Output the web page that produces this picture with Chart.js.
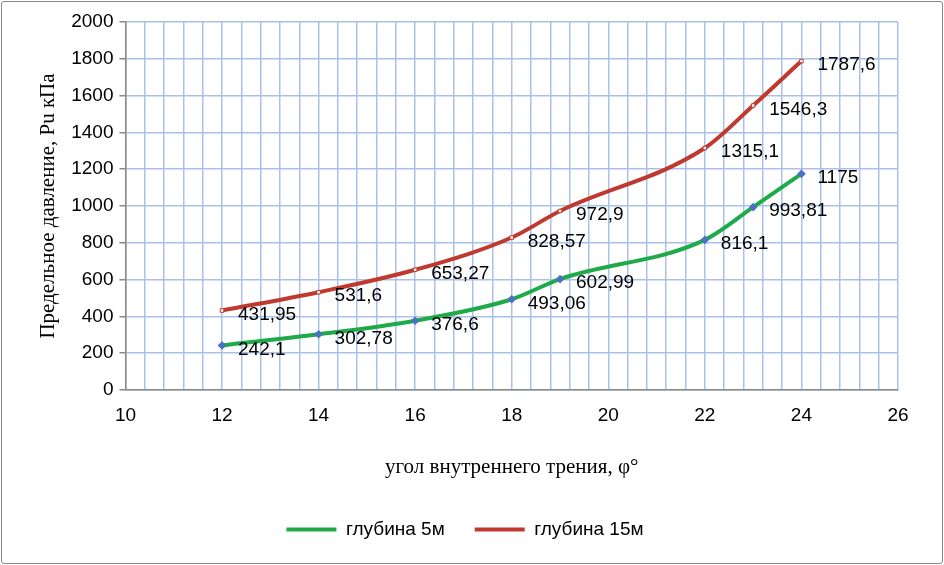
<!DOCTYPE html>
<html><head><meta charset="utf-8">
<script src="https://cdn.jsdelivr.net/npm/chart.js@4"></script>
<style>
body{margin:0;background:#fff}
#wrap{position:absolute;left:1px;top:1px;width:940px;height:561px;border:1px solid #888;border-radius:3px}
</style></head><body>
<div id="wrap"><canvas id="c" width="940" height="561"></canvas></div>
<script>
// x values: angle of internal friction
const angles = [12, 14, 16, 18, 19, 22, 23, 24]
const depth5 = [242.1, 302.78, 376.6, 493.06, 602.99, 816.1, 993.81, 1175]
const depth15 = [431.95, 531.6, 653.27, 828.57, 972.9, 1315.1, 1546.3, 1787.6]
const labels5 = ['242,1', '302,78', '376,6', '493,06', '602,99', '816,1', '993,81', '1175']
const labels15 = ['431,95', '531,6', '653,27', '828,57', '972,9', '1315,1', '1546,3', '1787,6']

const pointLabels = {
    id: 'pointLabels',
    afterDatasetsDraw(chart) {
        let ctx = chart.ctx
        ctx.save()
        ctx.font = '19px "Liberation Sans"'
        ctx.fillStyle = '#000'
        ctx.textBaseline = 'middle'
        let texts = [labels5, labels15]
        chart.data.datasets.forEach((ds, i) => {
            chart.getDatasetMeta(i).data.forEach((pt, j) => {
                ctx.fillText(texts[i][j], pt.x + 16, pt.y + 4)
            })
        })
        ctx.restore()
    }
}

new Chart(document.getElementById('c'), {
    type: 'line',
    data: {
        datasets: [{
            label: 'глубина 5м',
            data: angles.map((a, i) => ({x: a, y: depth5[i]})),
            borderColor: '#1faa4a',
            backgroundColor: '#4a72c4',
            pointBorderColor: '#4a72c4',
            borderWidth: 4,
            pointRadius: 1.5,
            pointStyle: 'rectRot',
            cubicInterpolationMode: 'monotone'
        }, {
            label: 'глубина 15м',
            data: angles.map((a, i) => ({x: a, y: depth15[i]})),
            borderColor: '#c0392f',
            backgroundColor: '#fff',
            pointBorderColor: '#c0392f',
            borderWidth: 4,
            pointRadius: 2.5,
            pointBorderWidth: 1,
            pointStyle: 'rect',
            cubicInterpolationMode: 'monotone'
        }]
    },
    options: {
        responsive: false,
        animation: false,
        layout: {padding: {left: 30, right: 44, top: 20, bottom: 14}},
        scales: {
            x: {
                type: 'linear', min: 10, max: 26,
                afterBuildTicks: axis => {
                    let t = []
                    for (let i = 0; i <= 40; i++) t.push({value: 10 + i * 0.4})
                    axis.ticks = t
                },
                grid: {color: '#a9c1e8', lineWidth: 1.5, drawTicks: false},
                border: {color: '#888', width: 1.5},
                ticks: {
                    autoSkip: false, maxRotation: 0, padding: 14,
                    color: '#000', font: {family: 'Liberation Sans', size: 19},
                    callback: v => Math.abs(v - Math.round(v)) < 1e-6 && Math.round(v) % 2 == 0 ? Math.round(v) : ''
                },
                title: {display: true, text: 'угол внутреннего трения, φ°', color: '#000',
                    font: {family: 'Liberation Serif', size: 21}, padding: {top: 14, bottom: 10}}
            },
            y: {
                min: 0, max: 2000,
                grid: {color: '#a9c1e8', lineWidth: 1.5, tickColor: '#888', tickLength: 6},
                border: {color: '#888', width: 1.5},
                ticks: {stepSize: 200, color: '#000', font: {family: 'Liberation Sans', size: 19}, padding: 6,
                    callback: v => String(v)},
                title: {display: true, text: 'Предельное давление, Pu кПа', color: '#000',
                    font: {family: 'Liberation Serif', size: 21}}
            }
        },
        plugins: {
            legend: {
                position: 'bottom',
                labels: {
                    color: '#000', font: {family: 'Liberation Sans', size: 19},
                    boxWidth: 50, boxHeight: 4, padding: 30,
                    generateLabels: chart => chart.data.datasets.map((ds, i) => ({
                        text: ds.label, fillStyle: ds.borderColor, strokeStyle: ds.borderColor,
                        lineWidth: 0, datasetIndex: i
                    }))
                }
            },
            tooltip: {enabled: false}
        }
    },
    plugins: [pointLabels]
})
</script>
</body></html>
